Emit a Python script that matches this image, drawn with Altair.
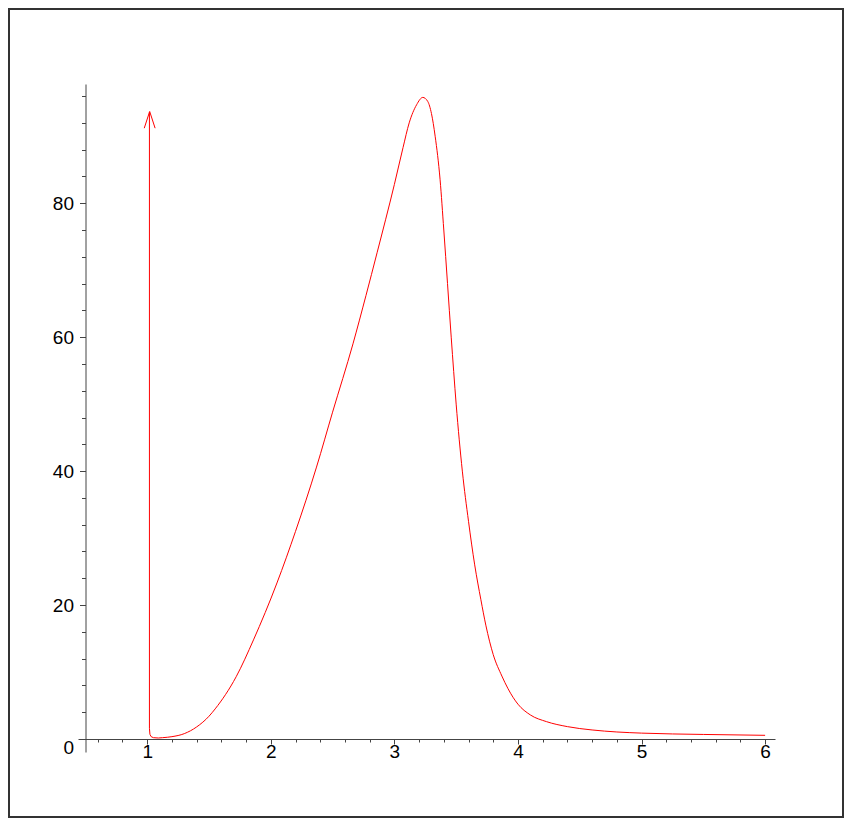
import altair as alt
import pandas as pd

# ---- data ----
shaft_x = [1.018, 1.018, 1.022, 1.032, 1.05, 1.09, 1.125]
shaft_y = [93.6, 1.6, 0.7, 0.35, 0.2, 0.15, 0.2]

head_x = [0.976, 1.02, 1.064]
head_y = [91.2, 93.7, 91.2]

curve_x = [1.125, 1.2, 1.3, 1.4, 1.5, 1.55, 1.72, 1.86, 2.05, 2.2,
           2.37, 2.5, 2.665, 2.77, 2.86, 3.0, 3.07, 3.12, 3.18, 3.23,
           3.27, 3.30, 3.33, 3.37, 3.40, 3.46, 3.50, 3.55, 3.60, 3.65,
           3.70, 3.74, 3.80, 3.87, 3.92, 4.0, 4.1, 4.23, 4.4,
           4.6, 4.8, 5.0, 5.5, 6.0]
curve_y = [0.2, 0.35, 0.8, 1.8, 3.4, 4.5, 9.3, 14.8, 23.3, 31.0,
           40.6, 48.8, 59.0, 66.2, 72.6, 82.8, 88.3, 92.0, 94.7, 95.8,
           95.2, 93.4, 90.0, 83.5, 76.0, 60.0, 50.0, 40.0, 32.5, 26.0,
           20.8, 17.0, 12.6, 9.4, 7.5, 5.2, 3.6, 2.6, 1.85,
           1.35, 1.05, 0.88, 0.68, 0.55]

x_ticks = [round(0.6 + 0.2 * i, 1) for i in range(28)]
y_ticks = list(range(0, 97, 4))

x_domain = [0.44, 6.08]
y_domain = [-1.94, 97.8]

RED = "#ff0000"
AX = "#444444"
FONT = "Liberation Sans"

lin = pd.DataFrame(
    {"x": shaft_x + head_x,
     "y": shaft_y + head_y,
     "part": ["shaft"] * len(shaft_x) + ["head"] * len(head_x),
     "i": list(range(len(shaft_x))) + list(range(len(head_x)))}
)
cur = pd.DataFrame({"x": curve_x, "y": curve_y, "i": list(range(len(curve_x)))})

xs = alt.Scale(domain=x_domain, nice=False, zero=False)
ys = alt.Scale(domain=y_domain, nice=False, zero=False)

x_axis = alt.Axis(
    values=x_ticks, tickCount=200, offset=-13, title=None, grid=False,
    domainColor=AX, domainWidth=1, tickColor=AX, tickWidth=1,
    tickSize={"condition": {"test": "datum.value % 1 === 0", "value": 5}, "value": 3},
    labelExpr="datum.value % 1 === 0 ? format(datum.value, 'd') : ''",
    labelFont=FONT, labelFontSize=19, labelColor="black", labelPadding=-2,
    labelFlush=False, labelOverlap=False, labelBound=False,
)
y_axis = alt.Axis(
    values=y_ticks, tickCount=200, offset=-7.5, title=None, grid=False,
    domainColor=AX, domainWidth=1, tickColor=AX, tickWidth=1,
    tickSize={"condition": {"test": "datum.value % 20 === 0", "value": 6}, "value": 4},
    labelExpr="datum.value % 20 === 0 ? format(datum.value, 'd') : ''",
    labelOffset={"condition": {"test": "datum.value === 0", "value": 8}, "value": 0},
    labelFont=FONT, labelFontSize=19, labelColor="black", labelPadding=6,
    labelFlush=False, labelOverlap=False, labelBound=False,
)

curve = alt.Chart(cur).mark_line(color=RED, strokeWidth=1, interpolate="monotone").encode(
    x=alt.X("x:Q", scale=xs, axis=x_axis),
    y=alt.Y("y:Q", scale=ys, axis=y_axis),
    order="i:Q",
)

arrow = alt.Chart(lin).mark_line(color=RED, strokeWidth=1).encode(
    x=alt.X("x:Q", scale=xs),
    y=alt.Y("y:Q", scale=ys),
    detail="part:N",
    order="i:Q",
)

border = alt.Chart(alt.Data(values=[{}])).mark_rect(
    fillOpacity=0, stroke="#333333", strokeWidth=2
).encode(
    x=alt.value(-69), x2=alt.value(765), y=alt.value(-75), y2=alt.value(733)
)

chart = alt.layer(border, curve, arrow).properties(
    width=697, height=668,
    autosize=alt.AutoSizeParams(type="none"),
    padding={"left": 70, "top": 76, "right": 69, "bottom": 66},
).configure_view(strokeOpacity=0)

chart.save("out.html", embed_options={"renderer": "svg", "actions": False})
